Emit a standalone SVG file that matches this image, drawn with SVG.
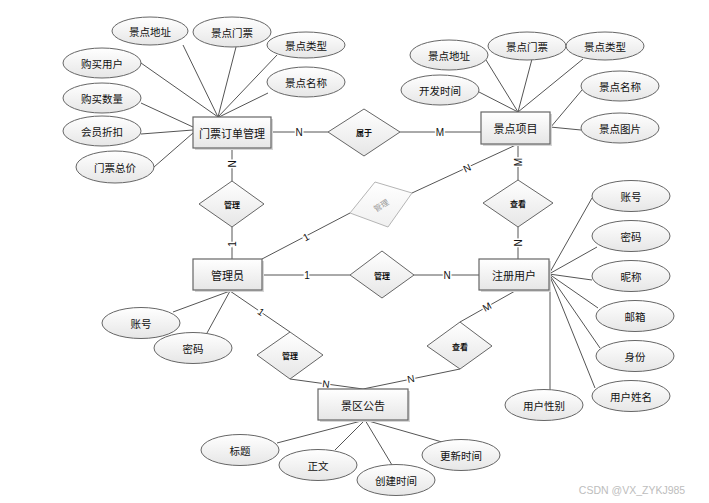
<svg xmlns="http://www.w3.org/2000/svg" width="709" height="503" viewBox="0 0 709 503">
<defs>
<linearGradient id="g" x1="0" y1="0" x2="0" y2="1">
<stop offset="0" stop-color="#ffffff"/>
<stop offset="1" stop-color="#e6e6e6"/>
</linearGradient>
<linearGradient id="gl" x1="0" y1="0" x2="0" y2="1">
<stop offset="0" stop-color="#ffffff"/>
<stop offset="1" stop-color="#f0f0f0"/>
</linearGradient>
<style>
.ent rect.b{fill:url(#g);stroke:#666;stroke-width:1.2}
.ent rect.s{fill:#d6d6d6}
.att ellipse{fill:url(#g);stroke:#666;stroke-width:1}
.rel polygon{fill:url(#g);stroke:#666;stroke-width:1}
text{font-family:"Noto Sans CJK SC","Liberation Sans",sans-serif;fill:#111;text-anchor:middle;dominant-baseline:central}
.et{font-size:11px}
.at{font-size:10.5px}
.rt{font-size:8px;font-weight:bold}
.ln line,.ln polyline{stroke:#555;stroke-width:1;fill:none}
.lb{font-family:"Liberation Sans",sans-serif;font-size:10px;stroke:#fff;stroke-width:3px;paint-order:stroke}
</style>
</defs>
<rect width="709" height="503" fill="#fff"/>

<g id="connectors" class="ln">
<line x1="183" y1="45" x2="218" y2="117"/>
<line x1="236" y1="47" x2="218" y2="117"/>
<line x1="277" y1="55" x2="218" y2="117"/>
<line x1="268" y1="93" x2="219" y2="117"/>
<line x1="141" y1="63" x2="218" y2="117"/>
<line x1="141" y1="103" x2="193" y2="127"/>
<line x1="141" y1="134" x2="193" y2="130"/>
<line x1="154" y1="167" x2="193" y2="133"/>
<line x1="479" y1="92" x2="518" y2="112"/>
<line x1="486" y1="60" x2="518" y2="112"/>
<line x1="532" y1="59" x2="518" y2="112"/>
<line x1="583" y1="59" x2="518" y2="112"/>
<line x1="582" y1="90" x2="550" y2="128"/>
<line x1="581" y1="130" x2="550" y2="127"/>
<line x1="271" y1="132" x2="328" y2="132"/>
<line x1="400" y1="132" x2="481" y2="132"/>
<line x1="232" y1="148" x2="232" y2="181"/>
<line x1="232" y1="227" x2="232" y2="259"/>
<line x1="262" y1="259" x2="350" y2="213"/>
<line x1="412" y1="193" x2="518" y2="144"/>
<line x1="518" y1="144" x2="518" y2="180"/>
<line x1="518" y1="227" x2="518" y2="259"/>
<line x1="262" y1="275" x2="350" y2="275"/>
<line x1="414" y1="275" x2="479" y2="275"/>
<line x1="230" y1="291" x2="290" y2="332"/>
<polyline points="290,379 363,389 460,369"/>
<line x1="515" y1="291" x2="460" y2="322"/>
<line x1="173" y1="312" x2="230" y2="291"/>
<line x1="207" y1="333" x2="230" y2="291"/>
<line x1="549" y1="274" x2="592" y2="198"/>
<line x1="549" y1="274" x2="597" y2="247"/>
<line x1="549" y1="274" x2="592" y2="280"/>
<line x1="549" y1="274" x2="598" y2="308"/>
<line x1="549" y1="274" x2="600" y2="348"/>
<line x1="549" y1="274" x2="595" y2="388"/>
<line x1="550" y1="290" x2="550" y2="390"/>
<line x1="365" y1="420" x2="277" y2="443"/>
<line x1="365" y1="420" x2="335" y2="450"/>
<line x1="365" y1="420" x2="392" y2="465"/>
<line x1="365" y1="420" x2="442" y2="442"/>
<text class="lb" x="299" y="132">N</text>
<text class="lb" x="440" y="132">M</text>
<text class="lb" transform="translate(232,164) rotate(-90)">N</text>
<text class="lb" transform="translate(232,244) rotate(-90)">1</text>
<text class="lb" transform="translate(306,237) rotate(-28)">1</text>
<text class="lb" transform="translate(467,168) rotate(-25)">N</text>
<text class="lb" transform="translate(518,162) rotate(-90)">M</text>
<text class="lb" transform="translate(518,243) rotate(-90)">N</text>
<text class="lb" x="307" y="275">1</text>
<text class="lb" x="447" y="275">N</text>
<text class="lb" transform="translate(261,312) rotate(34)">1</text>
<text class="lb" transform="translate(326,384) rotate(7)">N</text>
<text class="lb" transform="translate(411,379) rotate(-11)">N</text>
<text class="lb" transform="translate(487,307) rotate(-29)">M</text>
</g>

<g id="e-order" class="ent"><rect class="s" x="195" y="119" width="78" height="31"/><rect class="b" x="193" y="117" width="78" height="31"/><text class="et" x="232" y="132.5">门票订单管理</text></g>
<g id="e-scenic" class="ent"><rect class="s" x="483" y="114" width="69" height="32"/><rect class="b" x="481" y="112" width="69" height="32"/><text class="et" x="515.5" y="128">景点项目</text></g>
<g id="e-admin" class="ent"><rect class="s" x="195" y="261" width="69" height="31"/><rect class="b" x="193" y="259" width="69" height="31"/><text class="et" x="227.5" y="274.5">管理员</text></g>
<g id="e-user" class="ent"><rect class="s" x="481" y="261" width="70" height="31"/><rect class="b" x="479" y="259" width="70" height="31"/><text class="et" x="514" y="274.5">注册用户</text></g>
<g id="e-notice" class="ent"><rect class="s" x="320" y="391" width="90" height="31"/><rect class="b" x="318" y="389" width="90" height="31"/><text class="et" x="363" y="404.5">景区公告</text></g>

<g id="r-belong" class="rel"><polygon points="328,132 364,109 400,132 364,156"/><text class="rt" x="364" y="132">属于</text></g>
<g id="r-manage1" class="rel"><polygon points="199,204 232,181 264,204 232,227"/><text class="rt" x="232" y="204">管理</text></g>
<g id="r-manage-gray"><polygon points="375,182 412,193 388,227 350,213" fill="url(#gl)" stroke="#b5b5b5" stroke-width="1"/><text class="rt" style="fill:#999;font-weight:normal" transform="translate(381,205) rotate(-32)">管理</text></g>
<g id="r-view1" class="rel"><polygon points="483,203 518,180 553,203 518,227"/><text class="rt" x="518" y="203">查看</text></g>
<g id="r-manage2" class="rel"><polygon points="350,275 382,251 414,275 382,298"/><text class="rt" x="382" y="275">管理</text></g>
<g id="r-manage3" class="rel"><polygon points="257,355 290,332 323,355 290,379"/><text class="rt" x="290" y="355">管理</text></g>
<g id="r-view2" class="rel"><polygon points="427,346 460,322 492,346 460,369"/><text class="rt" x="460" y="346">查看</text></g>

<g id="a-o-addr" class="att"><ellipse cx="150" cy="31" rx="38" ry="14"/><text class="at" x="150" y="31">景点地址</text></g>
<g id="a-o-ticket" class="att"><ellipse cx="232" cy="32" rx="39" ry="15"/><text class="at" x="232" y="32">景点门票</text></g>
<g id="a-o-type" class="att"><ellipse cx="306" cy="45" rx="39" ry="13"/><text class="at" x="306" y="45">景点类型</text></g>
<g id="a-o-name" class="att"><ellipse cx="306" cy="82" rx="39" ry="15"/><text class="at" x="306" y="82">景点名称</text></g>
<g id="a-o-buyer" class="att"><ellipse cx="102" cy="63" rx="39" ry="15"/><text class="at" x="102" y="63">购买用户</text></g>
<g id="a-o-qty" class="att"><ellipse cx="102" cy="98" rx="39" ry="15"/><text class="at" x="102" y="98">购买数量</text></g>
<g id="a-o-disc" class="att"><ellipse cx="102" cy="131" rx="39" ry="15"/><text class="at" x="102" y="131">会员折扣</text></g>
<g id="a-o-total" class="att"><ellipse cx="115" cy="167" rx="39" ry="16"/><text class="at" x="115" y="167">门票总价</text></g>

<g id="a-s-addr" class="att"><ellipse cx="449" cy="55" rx="39" ry="15"/><text class="at" x="449" y="55">景点地址</text></g>
<g id="a-s-ticket" class="att"><ellipse cx="527" cy="46" rx="39" ry="14"/><text class="at" x="527" y="46">景点门票</text></g>
<g id="a-s-type" class="att"><ellipse cx="605" cy="46" rx="39" ry="14"/><text class="at" x="605" y="46">景点类型</text></g>
<g id="a-s-dev" class="att"><ellipse cx="440" cy="90" rx="39" ry="15"/><text class="at" x="440" y="90">开发时间</text></g>
<g id="a-s-name" class="att"><ellipse cx="620" cy="86" rx="39" ry="15"/><text class="at" x="620" y="86">景点名称</text></g>
<g id="a-s-pic" class="att"><ellipse cx="620" cy="128" rx="39" ry="15"/><text class="at" x="620" y="128">景点图片</text></g>

<g id="a-a-acc" class="att"><ellipse cx="141" cy="323" rx="39" ry="15.5"/><text class="at" x="141" y="323">账号</text></g>
<g id="a-a-pwd" class="att"><ellipse cx="193" cy="348" rx="39" ry="15.5"/><text class="at" x="193" y="348">密码</text></g>

<g id="a-u-acc" class="att"><ellipse cx="631" cy="196" rx="39" ry="15.5"/><text class="at" x="631" y="196">账号</text></g>
<g id="a-u-pwd" class="att"><ellipse cx="631" cy="236" rx="39" ry="15.5"/><text class="at" x="631" y="236">密码</text></g>
<g id="a-u-nick" class="att"><ellipse cx="631" cy="276" rx="39" ry="15.5"/><text class="at" x="631" y="276">昵称</text></g>
<g id="a-u-mail" class="att"><ellipse cx="635" cy="316" rx="39" ry="15.5"/><text class="at" x="635" y="316">邮箱</text></g>
<g id="a-u-id" class="att"><ellipse cx="635" cy="356" rx="39" ry="15.5"/><text class="at" x="635" y="356">身份</text></g>
<g id="a-u-name" class="att"><ellipse cx="631" cy="396" rx="39" ry="15.5"/><text class="at" x="631" y="396">用户姓名</text></g>
<g id="a-u-sex" class="att"><ellipse cx="544" cy="405" rx="39" ry="15.5"/><text class="at" x="544" y="405">用户性别</text></g>

<g id="a-n-title" class="att"><ellipse cx="240" cy="450" rx="39" ry="15.5"/><text class="at" x="240" y="450">标题</text></g>
<g id="a-n-body" class="att"><ellipse cx="318" cy="465" rx="39" ry="15.5"/><text class="at" x="318" y="465">正文</text></g>
<g id="a-n-create" class="att"><ellipse cx="396" cy="480" rx="39" ry="15.5"/><text class="at" x="396" y="480">创建时间</text></g>
<g id="a-n-update" class="att"><ellipse cx="461" cy="455" rx="39" ry="15.5"/><text class="at" x="461" y="455">更新时间</text></g>

<text x="632" y="490" style="font-family:'Liberation Sans',sans-serif;font-size:10.5px;fill:#bdbdbd">CSDN @VX_ZYKJ985</text>
</svg>
